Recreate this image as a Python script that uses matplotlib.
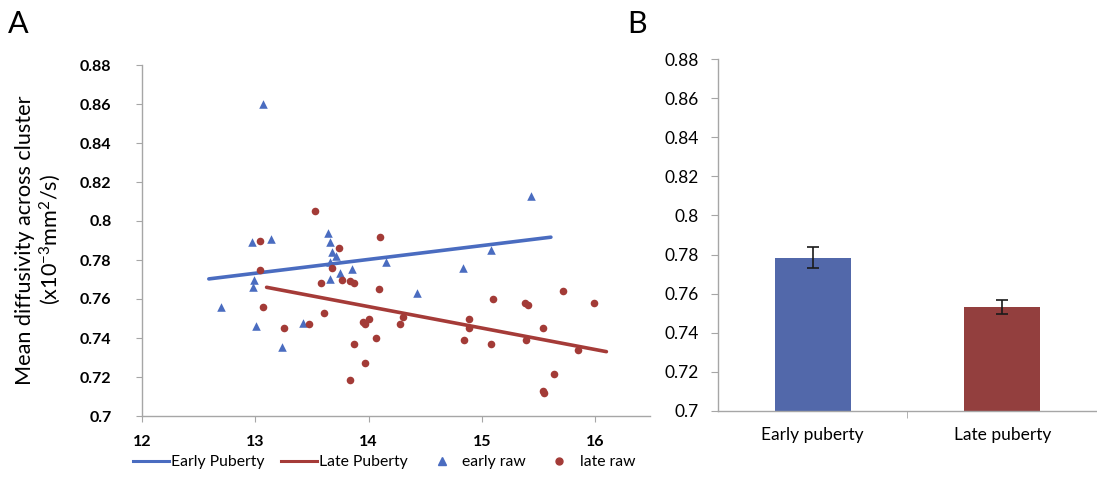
import matplotlib
matplotlib.use("Agg")
import matplotlib.pyplot as plt
from matplotlib.lines import Line2D

plt.rcParams['font.family'] = ['Lato', 'DejaVu Sans']
plt.rcParams['mathtext.default'] = 'regular'

# ---- Panel A data: scatter (age vs mean diffusivity) ----
early_x = [13.07, 12.97, 13.14, 13.64, 13.66, 13.68, 13.71, 13.66, 14.15, 13.75, 13.85,
           13.66, 12.99, 12.98, 12.70, 13.01, 13.42, 13.24, 15.43, 15.08, 14.83, 14.43]
early_y = [0.860, 0.789, 0.791, 0.794, 0.789, 0.784, 0.782, 0.779, 0.779, 0.7735, 0.7755,
           0.7705, 0.7695, 0.766, 0.756, 0.746, 0.7475, 0.7355, 0.813, 0.785, 0.776, 0.763]

late_x = [13.53, 13.04, 14.10, 13.74, 13.68, 13.04, 13.77, 13.84, 13.87, 13.58, 13.07,
          13.61, 13.25, 13.47, 14.00, 13.95, 13.97, 14.07, 13.87, 13.97, 13.84, 14.09,
          15.10, 15.72, 15.38, 15.41, 15.99, 14.30, 14.28, 14.89, 14.885, 14.84, 15.08,
          15.39, 15.54, 15.85, 15.64, 15.54, 15.55]
late_y = [0.805, 0.790, 0.792, 0.786, 0.776, 0.775, 0.770, 0.769, 0.768, 0.768, 0.756,
          0.753, 0.745, 0.747, 0.750, 0.748, 0.747, 0.740, 0.737, 0.727, 0.7185, 0.765,
          0.760, 0.764, 0.758, 0.757, 0.758, 0.751, 0.747, 0.750, 0.745, 0.739, 0.737,
          0.739, 0.745, 0.734, 0.7215, 0.713, 0.712]

# trend lines (endpoints)
early_fit_x = [12.59, 15.61]
early_fit_y = [0.7703, 0.7917]
late_fit_x = [13.10, 16.10]
late_fit_y = [0.766, 0.733]

x_ticks_a = [12, 13, 14, 15, 16]
y_ticks = [0.7, 0.72, 0.74, 0.76, 0.78, 0.8, 0.82, 0.84, 0.86, 0.88]
y_tick_labels = ['0.7', '0.72', '0.74', '0.76', '0.78', '0.8', '0.82', '0.84', '0.86', '0.88']

# ---- Panel B data: group means ----
groups = ['Early puberty', 'Late puberty']
means = [0.7784, 0.7530]
errors = [0.0055, 0.0035]

blue_pt = '#4A6CC0'
red_pt = '#A33B37'
blue_line = '#4A6CC0'
red_line = '#A53B38'
bar_colors = ['#5268AA', '#933F3E']
gray = '#A6A6A6'

fig = plt.figure(figsize=(10.97, 4.84), dpi=100)

# ---------------- Panel A ----------------
axA = fig.add_axes([142/1097, 1-416/484, (650-142)/1097, (416-65)/484])
axA.plot(early_fit_x, early_fit_y, color=blue_line, lw=2.6, solid_capstyle='round', zorder=2)
axA.plot(late_fit_x, late_fit_y, color=red_line, lw=2.6, solid_capstyle='round', zorder=2)
axA.scatter(early_x, early_y, marker='^', s=38, color=blue_pt, linewidths=0, zorder=3)
axA.scatter(late_x, late_y, marker='o', s=30, color=red_pt, linewidths=0, zorder=3)
axA.set_xlim(12, 16.485)
axA.set_ylim(0.7, 0.88)
axA.set_xticks(x_ticks_a)
axA.set_xticklabels([str(v) for v in x_ticks_a], fontweight='bold', fontsize=11.5)
axA.set_yticks(y_ticks)
axA.set_yticklabels(y_tick_labels, fontweight='bold', fontsize=11.5)
for s in ['top', 'right']:
    axA.spines[s].set_visible(False)
for s in ['left', 'bottom']:
    axA.spines[s].set_color(gray)
    axA.spines[s].set_linewidth(1.0)
axA.tick_params(axis='y', direction='out', length=4, color=gray, pad=18)
axA.tick_params(axis='x', direction='out', length=4, color=gray, pad=10)

fig.text(39/1097, 1-240/484, 'Mean diffusivity across cluster\n(x10$^{-3}$mm$^{2}$/s)',
         fontsize=15.6, rotation=90, ha='center', va='center', multialignment='center',
         linespacing=1.12)

handles = [
    Line2D([], [], color=blue_line, lw=2.2),
    Line2D([], [], color=red_line, lw=2.2),
    Line2D([], [], color=blue_pt, marker='^', ls='none', markersize=6),
    Line2D([], [], color=red_pt, marker='o', ls='none', markersize=5),
]
labels = ['Early Puberty', 'Late Puberty', 'early raw', 'late raw']
fig.legend(handles, labels, loc='center left', bbox_to_anchor=(133/1097, 1-462/484),
           ncol=4, frameon=False, fontsize=11.3, handlelength=2.3, handletextpad=0.15,
           columnspacing=1.0, borderaxespad=0, borderpad=0)

fig.text(18/1097, 1-24/484, 'A', fontsize=22, ha='center', va='center')
fig.text(637/1097, 1-24/484, 'B', fontsize=22, ha='center', va='center')

# ---------------- Panel B ----------------
axB = fig.add_axes([718/1097, 1-410.7/484, (1097-718)/1097, (410.7-59.3)/484])
xpos = list(range(len(groups)))
axB.bar(xpos, [m - 0.7 for m in means], bottom=0.7, width=0.4, color=bar_colors,
        edgecolor='none', zorder=2)
axB.errorbar(xpos, means, yerr=errors, fmt='none', ecolor='#1a1a1a', elinewidth=1.2,
             capsize=4.5, capthick=1.2, zorder=3)
axB.set_xlim(-0.5, 1.5)
axB.set_ylim(0.7, 0.88)
axB.set_yticks(y_ticks)
axB.set_yticklabels(y_tick_labels, fontsize=12.5)
axB.set_xticks(xpos)
axB.set_xticklabels(groups, fontsize=12.5)
axB.set_xticks([0.5], minor=True)
axB.tick_params(axis='x', which='major', length=0, pad=12)
axB.tick_params(axis='x', which='minor', length=5, color=gray, direction='out')
axB.tick_params(axis='y', direction='out', length=5, color=gray, pad=9)
for s in ['top', 'right']:
    axB.spines[s].set_visible(False)
for s in ['left', 'bottom']:
    axB.spines[s].set_color(gray)
    axB.spines[s].set_linewidth(1.0)

fig.savefig('out.png', dpi=100)
